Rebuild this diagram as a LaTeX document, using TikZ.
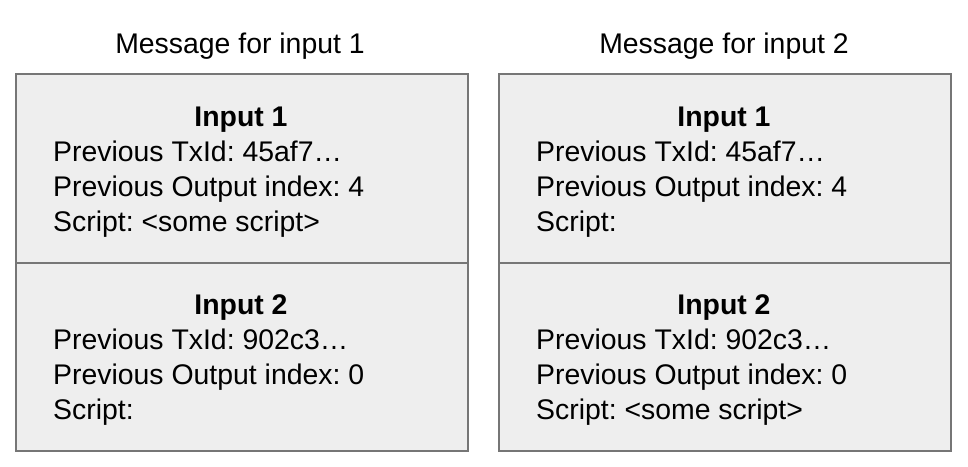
\documentclass[tikz,border=0pt]{standalone}
\usepackage{fontspec}
\setmainfont{Liberation Sans}
\definecolor{cellfill}{HTML}{EEEEEE}
\definecolor{cellline}{HTML}{767676}
\frenchspacing
\begin{document}
\begin{tikzpicture}[x=1pt,y=-1pt,
  cell/.style={draw=cellline,fill=cellfill,line width=2pt,minimum width=452pt,minimum height=188.5pt,inner sep=0pt,outer sep=0pt},
  txt/.style={anchor=base west,inner sep=0pt,font=\fontsize{28.4}{32}\selectfont},
  head/.style={anchor=base,inner sep=0pt,font=\fontsize{28.4}{32}\selectfont\bfseries},
  ttl/.style={anchor=base,inner sep=0pt,font=\fontsize{28.4}{32}\selectfont}]
\useasboundingbox (0,0) rectangle (968,466);
% left message
\node[ttl] (t1) at (240,53) {Message for input 1};
\node[cell] (a1) at (241.5,168.35) {};
\node[cell] (a2) at (241.5,356.85) {};
\node[head] (a1h) at (241,126) {Input 1};
\node[txt] (a1a) at (53,161) {Previous TxId: 45af7…};
\node[txt] (a1b) at (53,196) {Previous Output index: 4};
\node[txt] (a1c) at (53,231) {Script: <some script>};
\node[head] (a2h) at (241,314) {Input 2};
\node[txt] (a2a) at (53,349) {Previous TxId: 902c3…};
\node[txt] (a2b) at (53,384) {Previous Output index: 0};
\node[txt] (a2c) at (53,419) {Script:};
% right message
\node[ttl] (t2) at (724,53) {Message for input 2};
\node[cell] (b1) at (724.75,168.35) {};
\node[cell] (b2) at (724.75,356.85) {};
\node[head] (b1h) at (724,126) {Input 1};
\node[txt] (b1a) at (536,161) {Previous TxId: 45af7…};
\node[txt] (b1b) at (536,196) {Previous Output index: 4};
\node[txt] (b1c) at (536,231) {Script:};
\node[head] (b2h) at (724,314) {Input 2};
\node[txt] (b2a) at (536,349) {Previous TxId: 902c3…};
\node[txt] (b2b) at (536,384) {Previous Output index: 0};
\node[txt] (b2c) at (536,419) {Script: <some script>};
\end{tikzpicture}
\end{document}
